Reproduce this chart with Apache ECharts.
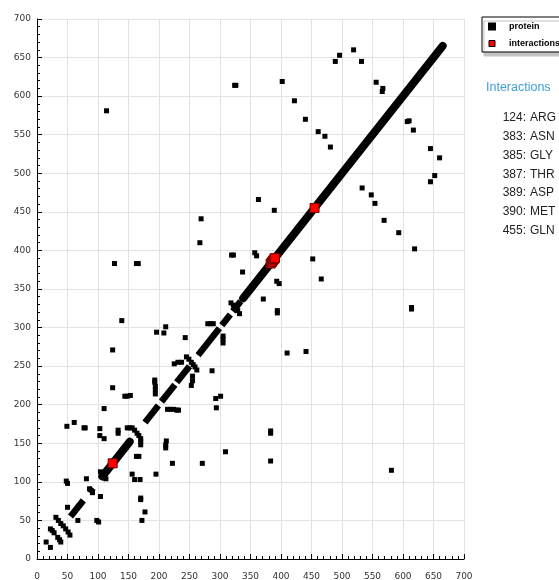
<!DOCTYPE html>
<html><head><meta charset="utf-8">
<script src="https://cdn.jsdelivr.net/npm/echarts@6/dist/echarts.min.js"></script>
<style>html,body{margin:0;padding:0;background:#fff}#c{width:559px;height:580px}</style>
</head><body><div id="c"></div>
<script>
// ---- data ----
const seriesNames = ['protein', 'interactions'];
const panelTitle = 'Interactions';
const interactionResidues = [124, 383, 385, 387, 389, 390, 455];
const interactionNames = ['ARG', 'ASN', 'GLY', 'THR', 'ASP', 'MET', 'GLN'];

// contiguous stretches of the near-diagonal band [from, to]
const diagonalRunsDense = [[107,152],[338,665]];
const diagonalRunsSparse = [[55,76],[86,92],[177,199],[204,226],[229,250],[264,299],[303,317],[321,334]];

// individual off-diagonal contacts [residue i, residue j]
const proteinContacts = [
  [15,22],[22,15],
  [22,39],[25,37],[28,34],[39,22],[37,25],[34,28],
  [31,54],[35,50],[39,46],[43,43],[47,39],[51,35],[54,31],
  [48,101],[50,98],[101,48],[98,50],
  [50,67],[67,50],
  [86,91],[91,86],
  [81,104],[104,81],
  [104,113],[108,109],[113,104],
  [49,172],[172,50],
  [61,177],[177,61],
  [77,170],[79,170],[170,77],[170,79],
  [103,169],[103,160],[110,156],[169,103],[160,103],[156,110],
  [110,195],[195,110],
  [133,163],[133,167],[163,133],[167,133],
  [148,170],[152,170],[156,170],[160,167],[164,163],[167,160],[170,156],[170,152],[170,148],
  [114,581],[581,115],
  [124,222],[222,124],
  [124,271],[271,124],
  [139,309],[309,139],
  [144,211],[148,211],[153,212],[211,144],[211,148],[212,153],
  [127,383],[383,127],
  [163,383],[166,383],[383,163],[383,166],
  [196,294],[294,196],[208,293],[293,208],[211,301],[301,211],
  [194,214],[194,219],[194,224],[193,229],[193,232],
  [214,194],[219,194],[224,194],[229,193],[232,193],
  [243,287],[287,244],
  [225,253],[231,255],[237,255],[253,225],[255,231],[255,237],
  [245,262],[249,259],[253,255],[256,252],[259,249],[262,245],
  [280,305],[285,305],[289,305],[305,280],[305,285],[305,289],
  [318,332],[322,329],[326,325],[329,322],[332,318],
  [319,394],[322,394],[394,319],[394,322],
  [337,372],[371,337],
  [357,397],[360,393],[393,360],[397,357],
  [267,410],[410,267],
  [269,441],[441,269],
  [363,466],[466,363],
  [389,452],[452,389],
  [324,614],[326,614],[614,324],[614,326],
  [402,619],[619,402],
  [422,594],[593,423],
  [440,570],[569,439],
  [461,554],[554,461],
  [472,548],[548,472],
  [481,534],[533,481],
  [489,645],[645,489],
  [496,653],[652,497],
  [519,660],[660,520],
  [532,645],[645,532],
  [556,618],[617,556],
  [566,606],[567,610],[607,567],[610,568]
];

// ---- chart ----
const chart = echarts.init(document.getElementById('c'), null, {renderer: 'canvas'});

const axisCommon = {
  type: 'value', min: 0, max: 700, interval: 50,
  axisLine: {show: true, onZero: false, lineStyle: {color: '#000', width: 1}},
  axisTick: {show: true, inside: true, length: 5, lineStyle: {color: '#000'}},
  minorTick: {show: true, splitNumber: 5, length: 3, lineStyle: {color: '#000'}},
  splitLine: {show: true, lineStyle: {color: '#e2e2e2', width: 1}},
  minorSplitLine: {show: false}
};

const graphics = [{
  type: 'text', x: 486, y: 88,
  style: {text: panelTitle, font: '12.5px "Liberation Sans"', fill: '#3f9fd8', align: 'left', verticalAlign: 'middle'}
}];
interactionResidues.forEach((r, i) => {
  graphics.push({type: 'text', x: 526, y: 117.5 + i * 18.9,
    style: {text: r + ':', font: '12px "Liberation Sans"', fill: '#222', align: 'right', verticalAlign: 'middle'}});
  graphics.push({type: 'text', x: 530, y: 117.5 + i * 18.9,
    style: {text: interactionNames[i], font: '12px "Liberation Sans"', fill: '#222', align: 'left', verticalAlign: 'middle'}});
});

const runToLine = ([a, b]) => ({coords: [[a, a], [b, b]]});

chart.setOption({
  animation: false,
  backgroundColor: '#fff',
  grid: {left: 37, top: 19, width: 427, height: 540, containLabel: false, outerBoundsMode: 'none'},
  xAxis: Object.assign({}, axisCommon, {
    axisLabel: {fontFamily: 'DejaVu Sans', fontSize: 9, color: '#333', margin: 13}
  }),
  yAxis: Object.assign({}, axisCommon, {
    axisLabel: {fontFamily: 'DejaVu Sans', fontSize: 9, color: '#333', margin: 6}
  }),
  legend: {
    orient: 'vertical', left: 482, top: 17,
    itemWidth: 6, itemHeight: 6, itemGap: 8,
    padding: [5, 6, 4, 6],
    backgroundColor: '#fff', borderColor: '#000', borderWidth: 1,
    shadowColor: '#c4c4c4', shadowBlur: 0, shadowOffsetX: 2, shadowOffsetY: 4,
    textStyle: {fontFamily: 'Liberation Sans', fontWeight: 'bold', fontSize: 9, color: '#000', padding: [0, 0, 0, 9]},
    data: [
      {name: seriesNames[0], icon: 'rect', itemStyle: {color: '#000'}},
      {name: seriesNames[1], icon: 'rect', itemStyle: {color: '#ff0000', borderColor: '#000', borderWidth: 1}}
    ]
  },
  graphic: graphics,
  series: [
    {
      name: seriesNames[0], type: 'lines', coordinateSystem: 'cartesian2d', polyline: false, silent: true, z: 2,
      lineStyle: {color: '#000', width: 8, opacity: 1, cap: 'round'},
      data: diagonalRunsDense.map(runToLine)
    },
    {
      name: seriesNames[0], type: 'lines', coordinateSystem: 'cartesian2d', polyline: false, silent: true, z: 2,
      lineStyle: {color: '#000', width: 6.5, opacity: 1, cap: 'butt'},
      data: diagonalRunsSparse.map(runToLine)
    },
    {
      name: seriesNames[0], type: 'scatter', symbol: 'rect', symbolSize: 5, z: 3,
      itemStyle: {color: '#000', opacity: 1},
      data: proteinContacts
    },
    {
      name: seriesNames[1], type: 'scatter', symbol: 'rect', symbolSize: 9, z: 5,
      itemStyle: {color: '#ff0000', borderColor: '#700000', borderWidth: 1, opacity: 1},
      data: interactionResidues.map(r => [r, r])
    }
  ]
});
</script>
</body></html>
